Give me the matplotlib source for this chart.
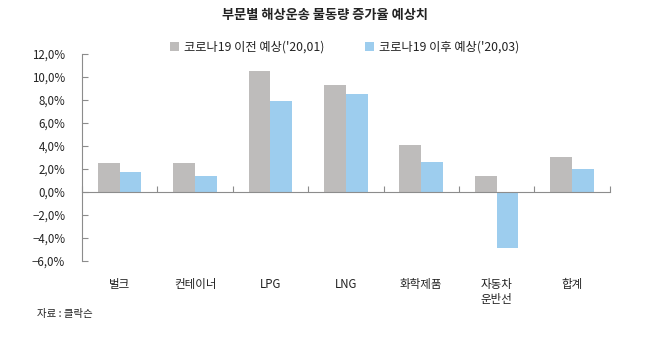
import matplotlib
matplotlib.use("Agg")
import matplotlib.pyplot as plt
import matplotlib.transforms as mtransforms
import numpy as np

plt.rcParams['font.family'] = ['Noto Sans CJK KR', 'DejaVu Sans']

title = "부문별 해상운송 물동량 증가율 예상치"
categories = ["벌크", "컨테이너", "LPG", "LNG", "화학제품", "자동차\n운반선", "합계"]
series_names = ["코로나19 이전 예상('20,01)", "코로나19 이후 예상('20,03)"]
before = [2.5, 2.5, 10.5, 9.3, 4.1, 1.4, 3.0]
after = [1.7, 1.4, 7.9, 8.5, 2.6, -4.9, 2.0]
yticks = [-6, -4, -2, 0, 2, 4, 6, 8, 10, 12]
ytick_labels = ["−6,0%", "−4,0%", "−2,0%", "0,0%", "2,0%", "4,0%", "6,0%", "8,0%", "10,0%", "12,0%"]
source = "자료 : 클락슨"

gray = "#BEBCBB"
blue = "#9DCDEE"
axis_col = "#8C8C8C"
text_col = "#222222"

fig = plt.figure(figsize=(6.5, 3.46), dpi=100)
ax = fig.add_axes([0.126, 0.246, 0.812, 0.598])

x = np.arange(len(categories))
w = 0.29
ax.bar(x - w / 2, before, w, color=gray, label=series_names[0], zorder=2)
ax.bar(x + w / 2, after, w, color=blue, label=series_names[1], zorder=2)

ax.set_xlim(-0.5, len(categories) - 0.5)
ax.set_ylim(-6, 12)

for s in ["top", "right"]:
    ax.spines[s].set_visible(False)
ax.spines["left"].set_color(axis_col)
ax.spines["left"].set_linewidth(0.8)
ax.spines["bottom"].set_position(("data", 0))
ax.spines["bottom"].set_color(axis_col)
ax.spines["bottom"].set_linewidth(0.8)

ax.set_yticks(yticks)
ax.set_yticklabels(ytick_labels, fontsize=8.3, color=text_col)
ax.tick_params(axis="y", direction="in", length=4, color=axis_col, pad=12)

ax.set_xticks(np.arange(len(categories) + 1) - 0.5)
ax.set_xticklabels([])
ax.tick_params(axis="x", direction="in", length=4, color=axis_col)

trans = mtransforms.blended_transform_factory(ax.transData, ax.transAxes)
for i, c in enumerate(categories):
    ax.text(i, -0.085, c, transform=trans, ha="center", va="top",
            fontsize=8.3, color=text_col, linespacing=1.2)

fig.text(0.5, 0.958, title, ha="center", va="center", fontsize=9.5,
         fontweight="bold", color=text_col)
fig.text(0.057, 0.093, source, ha="left", va="center", fontsize=7.5, color=text_col)

leg = fig.legend(loc="center", bbox_to_anchor=(0.53, 0.864), ncol=2, frameon=False,
                 fontsize=8.8, handlelength=0.75, handleheight=0.75, handletextpad=0.4,
                 columnspacing=3.3)
for t in leg.get_texts():
    t.set_color(text_col)

fig.savefig("out.png", dpi=100)
